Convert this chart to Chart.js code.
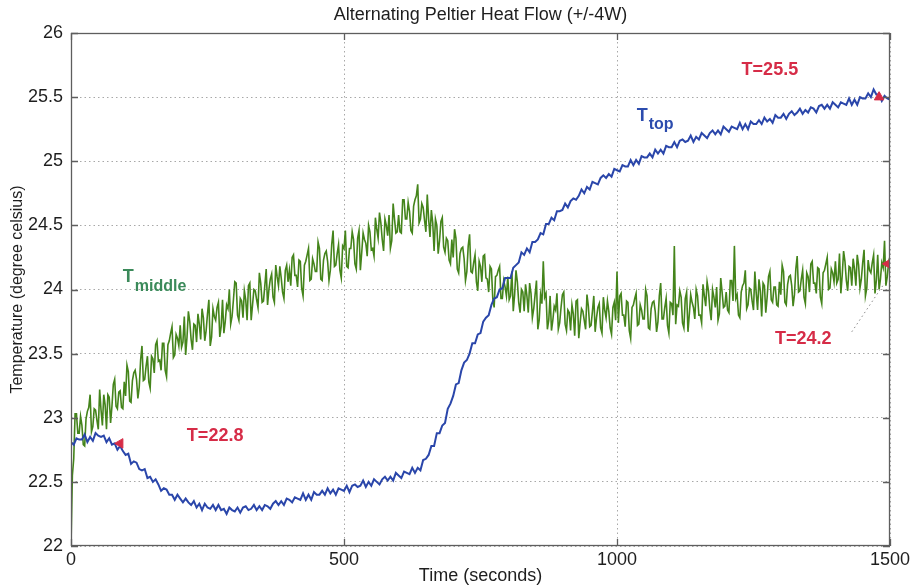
<!DOCTYPE html>
<html>
<head>
<meta charset="utf-8">
<script src="https://cdn.jsdelivr.net/npm/chart.js@4.4.1/dist/chart.umd.min.js"></script>
<style>
  html, body { margin: 0; padding: 0; background: #fff; }
  canvas { display: block; }
</style>
</head>
<body>
<canvas id="c" width="914" height="587"></canvas>
<script>
const FONT = '"Liberation Sans", Arial, Helvetica, sans-serif';

const chartTitle = 'Alternating Peltier Heat Flow (+/-4W)';
const xAxisTitle = 'Time (seconds)';
const yAxisTitle = 'Temperature (degree celsius)';

const xTicks = [0, 500, 1000, 1500];
const xTickLabels = ['0', '500', '1000', '1500'];
const yTicks = [22, 22.5, 23, 23.5, 24, 24.5, 25, 25.5, 26];
const yTickLabels = ['22', '22.5', '23', '23.5', '24', '24.5', '25', '25.5', '26'];

// T_middle sensor, one sample every 2.5 s (0 .. 1500 s), 100 s per row
const middleStep = 2.5;
const tMiddle = [
  22.00, 22.55, 22.68, 23.03, 23.03, 22.88, 22.88, 23.01, 22.94, 22.79, 22.78, 22.99, 23.05, 23.08, 23.18, 22.89, 22.93, 23.07, 23.06, 22.98,
  22.91, 23.22, 23.06, 22.94, 23.18, 23.10, 22.91, 23.18, 23.16, 22.96, 23.09, 23.26, 23.30, 23.09, 23.07, 23.20, 23.21, 23.08, 23.07, 23.28,
  23.17, 23.41, 23.36, 23.13, 23.12, 23.29, 23.35, 23.37, 23.30, 23.15, 23.24, 23.45, 23.56, 23.29, 23.30, 23.40, 23.48, 23.28, 23.23, 23.48,
  23.46, 23.35, 23.57, 23.60, 23.44, 23.45, 23.37, 23.58, 23.58, 23.37, 23.32, 23.57, 23.60, 23.66, 23.71, 23.47, 23.49, 23.65, 23.62, 23.56,
  23.72, 23.55, 23.59, 23.79, 23.49, 23.63, 23.83, 23.75, 23.61, 23.53, 23.73, 23.72, 23.59, 23.81, 23.73, 23.61, 23.85, 23.78, 23.60, 23.68,
  23.81, 23.92, 23.56, 23.63, 23.85, 23.79, 23.76, 23.86, 23.90, 23.63, 23.71, 23.92, 23.66, 23.75, 23.88, 23.85, 24.00, 23.73, 23.79, 23.92,
  24.06, 24.05, 23.80, 23.76, 23.93, 23.91, 23.78, 23.99, 23.92, 23.76, 24.03, 24.05, 23.76, 23.88, 24.00, 23.99, 23.92, 23.86, 24.13, 24.05,
  23.90, 23.91, 24.03, 24.16, 23.88, 24.00, 24.08, 24.12, 23.94, 23.90, 24.19, 24.10, 24.03, 24.18, 24.09, 23.98, 23.93, 24.15, 24.19, 24.06,
  24.15, 24.03, 24.25, 24.27, 24.11, 24.11, 24.02, 24.23, 24.22, 24.01, 23.95, 24.19, 24.22, 24.27, 24.32, 24.07, 24.08, 24.24, 24.20, 24.14,
  24.14, 24.37, 24.32, 24.08, 24.07, 24.23, 24.28, 24.30, 24.22, 24.07, 24.15, 24.35, 24.46, 24.18, 24.19, 24.28, 24.35, 24.15, 24.09, 24.34,
  24.32, 24.46, 24.18, 24.17, 24.32, 24.32, 24.45, 24.39, 24.20, 24.16, 24.40, 24.46, 24.15, 24.29, 24.44, 24.39, 24.36, 24.26, 24.50, 24.45,
  24.31, 24.32, 24.26, 24.56, 24.47, 24.40, 24.60, 24.52, 24.39, 24.30, 24.55, 24.50, 24.42, 24.58, 24.32, 24.38, 24.67, 24.55, 24.44, 24.45,
  24.58, 24.45, 24.44, 24.70, 24.70, 24.55, 24.55, 24.68, 24.61, 24.46, 24.44, 24.65, 24.70, 24.73, 24.82, 24.52, 24.55, 24.67, 24.64, 24.54,
  24.45, 24.74, 24.55, 24.41, 24.62, 24.52, 24.30, 24.55, 24.50, 24.28, 24.38, 24.53, 24.56, 24.33, 24.29, 24.40, 24.38, 24.23, 24.20, 24.39,
  24.25, 24.47, 24.40, 24.16, 24.13, 24.28, 24.32, 24.33, 24.24, 24.07, 24.14, 24.34, 24.43, 24.14, 24.13, 24.21, 24.27, 24.06, 23.99, 24.22,
  24.18, 24.06, 24.26, 24.27, 24.09, 24.08, 23.98, 24.18, 24.16, 23.93, 23.86, 24.10, 24.11, 24.15, 24.18, 23.93, 23.93, 24.07, 24.02, 23.95,
  24.10, 23.92, 23.95, 24.14, 23.83, 23.96, 24.15, 24.06, 23.90, 23.82, 24.00, 23.98, 23.83, 24.04, 23.95, 23.82, 24.05, 23.97, 23.78, 23.85,
  23.96, 24.07, 23.69, 23.76, 23.96, 23.89, 24.22, 23.94, 23.97, 23.69, 23.76, 23.95, 23.68, 23.76, 23.87, 23.84, 23.97, 23.69, 23.74, 23.86,
  23.96, 23.98, 23.73, 23.68, 23.84, 23.82, 23.68, 23.88, 23.81, 23.64, 23.91, 23.92, 23.62, 23.74, 23.85, 23.83, 23.76, 23.69, 23.96, 23.87,
  23.71, 23.72, 23.83, 23.95, 23.67, 23.78, 23.86, 23.89, 23.70, 23.66, 23.94, 23.84, 23.78, 23.91, 23.83, 23.70, 23.65, 23.86, 23.90, 23.76,
  24.14, 23.74, 23.95, 23.97, 23.80, 23.80, 23.71, 23.91, 23.90, 23.68, 23.62, 23.86, 23.88, 23.93, 23.97, 23.72, 23.73, 23.88, 23.84, 23.77,
  23.77, 24.00, 23.95, 23.70, 23.69, 23.85, 23.90, 23.91, 23.83, 23.67, 23.75, 23.95, 24.05, 23.77, 23.77, 23.86, 23.93, 23.72, 23.66, 23.90,
  23.89, 23.80, 24.34, 23.73, 23.88, 23.87, 23.99, 23.94, 23.74, 23.70, 23.93, 23.98, 23.67, 23.81, 23.96, 23.90, 23.86, 23.77, 24.00, 23.95,
  23.80, 23.80, 23.74, 24.04, 23.95, 23.87, 24.06, 23.99, 23.85, 23.76, 24.00, 23.94, 23.86, 24.02, 23.76, 23.81, 24.09, 23.98, 23.86, 23.87,
  23.98, 23.84, 23.82, 24.07, 24.07, 23.91, 24.34, 23.93, 23.96, 23.80, 23.78, 23.98, 24.03, 24.05, 24.15, 23.85, 23.88, 24.01, 24.00, 23.91,
  23.84, 24.14, 23.97, 23.84, 24.08, 23.99, 23.79, 24.05, 24.03, 23.82, 23.94, 24.10, 24.14, 23.92, 23.90, 24.02, 24.02, 23.88, 23.87, 24.06,
  23.96, 24.19, 24.14, 23.90, 23.88, 24.04, 24.10, 24.11, 24.03, 23.87, 23.96, 24.16, 24.26, 23.98, 23.99, 24.08, 24.15, 23.94, 23.89, 24.13,
  24.10, 23.98, 24.20, 24.22, 24.05, 24.05, 23.97, 24.17, 24.16, 23.94, 23.89, 24.13, 24.15, 24.20, 24.25, 24.00, 24.01, 24.16, 24.13, 24.06,
  24.22, 24.05, 24.08, 24.28, 23.97, 24.11, 24.30, 24.22, 24.07, 23.99, 24.18, 24.17, 24.03, 24.24, 24.16, 24.03, 24.27, 24.19, 24.01, 24.08,
  24.21, 24.31, 23.95, 24.01, 24.23, 24.15, 24.13, 24.21, 24.27, 23.97, 24.07, 24.27, 24.00, 24.08, 24.21, 24.17, 24.38, 24.03, 24.10, 24.21,
  24.16
];

// T_top sensor, one sample every 5 s (0 .. 1500 s), 100 s per row
const topStep = 5;
const tTop = [
  22.81, 22.79, 22.84, 22.83, 22.83, 22.87, 22.81, 22.85, 22.82, 22.88, 22.86, 22.85, 22.86, 22.81, 22.84, 22.79, 22.80, 22.75, 22.78, 22.74,
  22.71, 22.72, 22.64, 22.66, 22.65, 22.60, 22.59, 22.60, 22.53, 22.54, 22.50, 22.52, 22.48, 22.43, 22.45, 22.44, 22.40, 22.40, 22.36, 22.40,
  22.37, 22.34, 22.37, 22.34, 22.32, 22.35, 22.30, 22.33, 22.28, 22.33, 22.30, 22.29, 22.32, 22.28, 22.32, 22.28, 22.29, 22.25, 22.30, 22.28,
  22.27, 22.30, 22.26, 22.30, 22.31, 22.28, 22.29, 22.32, 22.28, 22.31, 22.28, 22.32, 22.31, 22.29, 22.33, 22.35, 22.32, 22.35, 22.32, 22.37,
  22.36, 22.34, 22.38, 22.37, 22.36, 22.41, 22.36, 22.40, 22.36, 22.42, 22.40, 22.40, 22.43, 22.40, 22.45, 22.41, 22.44, 22.40, 22.45, 22.44,
  22.43, 22.47, 22.42, 22.47, 22.48, 22.46, 22.47, 22.51, 22.46, 22.50, 22.47, 22.52, 22.50, 22.48, 22.52, 22.54, 22.51, 22.54, 22.51, 22.57,
  22.55, 22.53, 22.58, 22.57, 22.56, 22.61, 22.57, 22.61, 22.59, 22.67, 22.68, 22.71, 22.78, 22.78, 22.88, 22.88, 22.94, 22.96, 23.07, 23.11,
  23.17, 23.26, 23.27, 23.37, 23.43, 23.45, 23.50, 23.58, 23.58, 23.65, 23.66, 23.75, 23.78, 23.80, 23.88, 23.93, 23.94, 24.00, 24.01, 24.09,
  24.09, 24.09, 24.17, 24.19, 24.21, 24.29, 24.27, 24.32, 24.29, 24.37, 24.37, 24.39, 24.44, 24.43, 24.51, 24.51, 24.56, 24.54, 24.61, 24.61,
  24.62, 24.67, 24.64, 24.69, 24.71, 24.70, 24.73, 24.78, 24.75, 24.80, 24.78, 24.84, 24.83, 24.82, 24.87, 24.89, 24.87, 24.90, 24.88, 24.94,
  24.93, 24.92, 24.97, 24.96, 24.96, 25.01, 24.97, 25.01, 24.98, 25.04, 25.03, 25.03, 25.06, 25.03, 25.09, 25.06, 25.09, 25.06, 25.12, 25.11,
  25.11, 25.15, 25.11, 25.16, 25.17, 25.15, 25.16, 25.20, 25.15, 25.19, 25.17, 25.22, 25.20, 25.18, 25.22, 25.24, 25.21, 25.24, 25.21, 25.27,
  25.25, 25.23, 25.27, 25.26, 25.25, 25.30, 25.25, 25.29, 25.25, 25.31, 25.29, 25.29, 25.32, 25.29, 25.34, 25.31, 25.33, 25.30, 25.36, 25.34,
  25.34, 25.37, 25.33, 25.37, 25.39, 25.36, 25.38, 25.41, 25.37, 25.40, 25.38, 25.42, 25.41, 25.38, 25.43, 25.44, 25.41, 25.44, 25.41, 25.46,
  25.44, 25.42, 25.46, 25.45, 25.44, 25.49, 25.44, 25.48, 25.44, 25.50, 25.49, 25.49, 25.53, 25.50, 25.56, 25.52, 25.52, 25.47, 25.51, 25.49,
  25.48
];

// Marked readings (time in s, temperature in °C)
const markerTimes = [90, 1480, 1496];
const markerTemps = [22.8, 25.5, 24.2];
const markerRotations = [-90, 0, -90];

// Dotted leader from the T=24.2 label toward its reading
const leaderTimes = [1430, 1490];
const leaderTemps = [23.67, 24.05];

const COLORS = {
  top: '#2a46aa',
  middle: '#44841b',
  topLabel: '#2c4cae',
  middleLabel: '#3b8a5a',
  marker: '#d62c47',
  grid: '#a8a8a8',
  frame: '#5e5e5e',
  text: '#1e1e1e'
};

const toPoints = (vals, step) => vals.map((v, i) => ({ x: i * step, y: v }));

const markerSets = markerTimes.map((t, i) => ({
  label: 'marker' + i,
  data: [{ x: t, y: markerTemps[i] }],
  showLine: false,
  pointStyle: 'triangle',
  rotation: markerRotations[i],
  pointRadius: 5.5,
  pointBackgroundColor: COLORS.marker,
  pointBorderColor: COLORS.marker,
  pointBorderWidth: 1,
  order: 0
}));

// Frame box, MATLAB-style inward ticks on all four sides, and the title
const framePlugin = {
  id: 'frame',
  afterDatasetsDraw(chart) {
    const { ctx, chartArea: a, scales: { x, y } } = chart;
    const len = 7;
    ctx.save();
    ctx.strokeStyle = COLORS.frame;
    ctx.lineWidth = 1.3;
    ctx.strokeRect(a.left + 0.5, a.top + 0.5, a.right - a.left - 1, a.bottom - a.top - 1);
    ctx.beginPath();
    xTicks.forEach(v => {
      const px = Math.round(x.getPixelForValue(v)) + 0.5;
      ctx.moveTo(px, a.bottom); ctx.lineTo(px, a.bottom - len);
      ctx.moveTo(px, a.top); ctx.lineTo(px, a.top + len);
    });
    yTicks.forEach(v => {
      const py = Math.round(y.getPixelForValue(v)) + 0.5;
      ctx.moveTo(a.left, py); ctx.lineTo(a.left + len, py);
      ctx.moveTo(a.right, py); ctx.lineTo(a.right - len, py);
    });
    ctx.stroke();

    ctx.fillStyle = COLORS.text;
    ctx.font = '18px ' + FONT;
    ctx.textAlign = 'center';
    ctx.textBaseline = 'middle';
    ctx.fillText(chartTitle, (a.left + a.right) / 2, 15);
    ctx.restore();
  }
};

// In-plot text: reading labels and series names
const labelPlugin = {
  id: 'labels',
  afterDatasetsDraw(chart) {
    const { ctx, scales: { x, y } } = chart;
    ctx.save();
    ctx.textBaseline = 'middle';

    ctx.fillStyle = COLORS.marker;
    ctx.font = 'bold 18px ' + FONT;
    ctx.textAlign = 'center';
    const readingPos = [[264, 22.86], [1280, 25.71], [1341, 23.61]];
    markerTemps.forEach((v, i) => {
      const [tx, ty] = readingPos[i];
      ctx.fillText('T=' + v.toFixed(1), x.getPixelForValue(tx), y.getPixelForValue(ty));
    });

    ctx.textAlign = 'left';
    // T_top
    ctx.fillStyle = COLORS.topLabel;
    let px = x.getPixelForValue(1036), py = y.getPixelForValue(25.355);
    ctx.font = 'bold 18px ' + FONT;
    ctx.fillText('T', px, py);
    let w = ctx.measureText('T').width;
    ctx.font = 'bold 16px ' + FONT;
    ctx.fillText('top', px + w + 1, py + 9);

    // T_middle
    ctx.fillStyle = COLORS.middleLabel;
    px = x.getPixelForValue(95); py = y.getPixelForValue(24.10);
    ctx.font = 'bold 18px ' + FONT;
    ctx.fillText('T', px, py);
    w = ctx.measureText('T').width;
    ctx.font = 'bold 16px ' + FONT;
    ctx.fillText('middle', px + w + 1, py + 10);
    ctx.restore();
  }
};

const gridOpts = {
  color: COLORS.grid,
  lineWidth: 1,
  drawTicks: false,
  borderDash: [1.5, 3]
};

new Chart(document.getElementById('c'), {
  type: 'scatter',
  data: {
    datasets: [
      {
        label: 'T_top',
        data: toPoints(tTop, topStep),
        showLine: true,
        borderColor: COLORS.top,
        borderWidth: 2,
        pointRadius: 0,
        tension: 0,
        order: 1
      },
      {
        label: 'T_middle',
        data: toPoints(tMiddle, middleStep),
        showLine: true,
        borderColor: COLORS.middle,
        borderWidth: 1.6,
        pointRadius: 0,
        tension: 0,
        order: 2
      },
      {
        label: 'leader',
        data: leaderTimes.map((t, i) => ({ x: t, y: leaderTemps[i] })),
        showLine: true,
        borderColor: '#8a8a8a',
        borderWidth: 1,
        borderDash: [1.5, 3],
        pointRadius: 0,
        order: 3
      },
      ...markerSets
    ]
  },
  options: {
    responsive: false,
    animation: false,
    devicePixelRatio: 1,
    layout: { padding: { left: 0, right: 24, top: 33, bottom: 0 } },
    plugins: {
      legend: { display: false },
      tooltip: { enabled: false },
      title: { display: false }
    },
    scales: {
      x: {
        type: 'linear',
        min: 0,
        max: 1500,
        afterBuildTicks: s => { s.ticks = xTicks.map(v => ({ value: v })); },
        ticks: {
          color: COLORS.text,
          font: { family: FONT, size: 18 },
          padding: 3,
          maxRotation: 0,
          callback: v => xTickLabels[xTicks.indexOf(v)]
        },
        grid: gridOpts,
        border: { display: false, dash: [1.5, 3] },
        title: {
          display: true,
          text: xAxisTitle,
          color: COLORS.text,
          font: { family: FONT, size: 18 },
          padding: { top: 0, bottom: 0 }
        },
        afterFit: s => { s.height = 41; }
      },
      y: {
        min: 22,
        max: 26,
        afterBuildTicks: s => { s.ticks = yTicks.map(v => ({ value: v })); },
        ticks: {
          color: COLORS.text,
          font: { family: FONT, size: 18 },
          padding: 8,
          callback: v => yTickLabels[yTicks.indexOf(v)]
        },
        grid: gridOpts,
        border: { display: false, dash: [1.5, 3] },
        title: {
          display: true,
          text: yAxisTitle,
          color: COLORS.text,
          font: { family: FONT, size: 16 },
          padding: { top: 8, bottom: 0 }
        },
        afterFit: s => { s.width = 71; }
      }
    }
  },
  plugins: [framePlugin, labelPlugin]
});
</script>
</body>
</html>
